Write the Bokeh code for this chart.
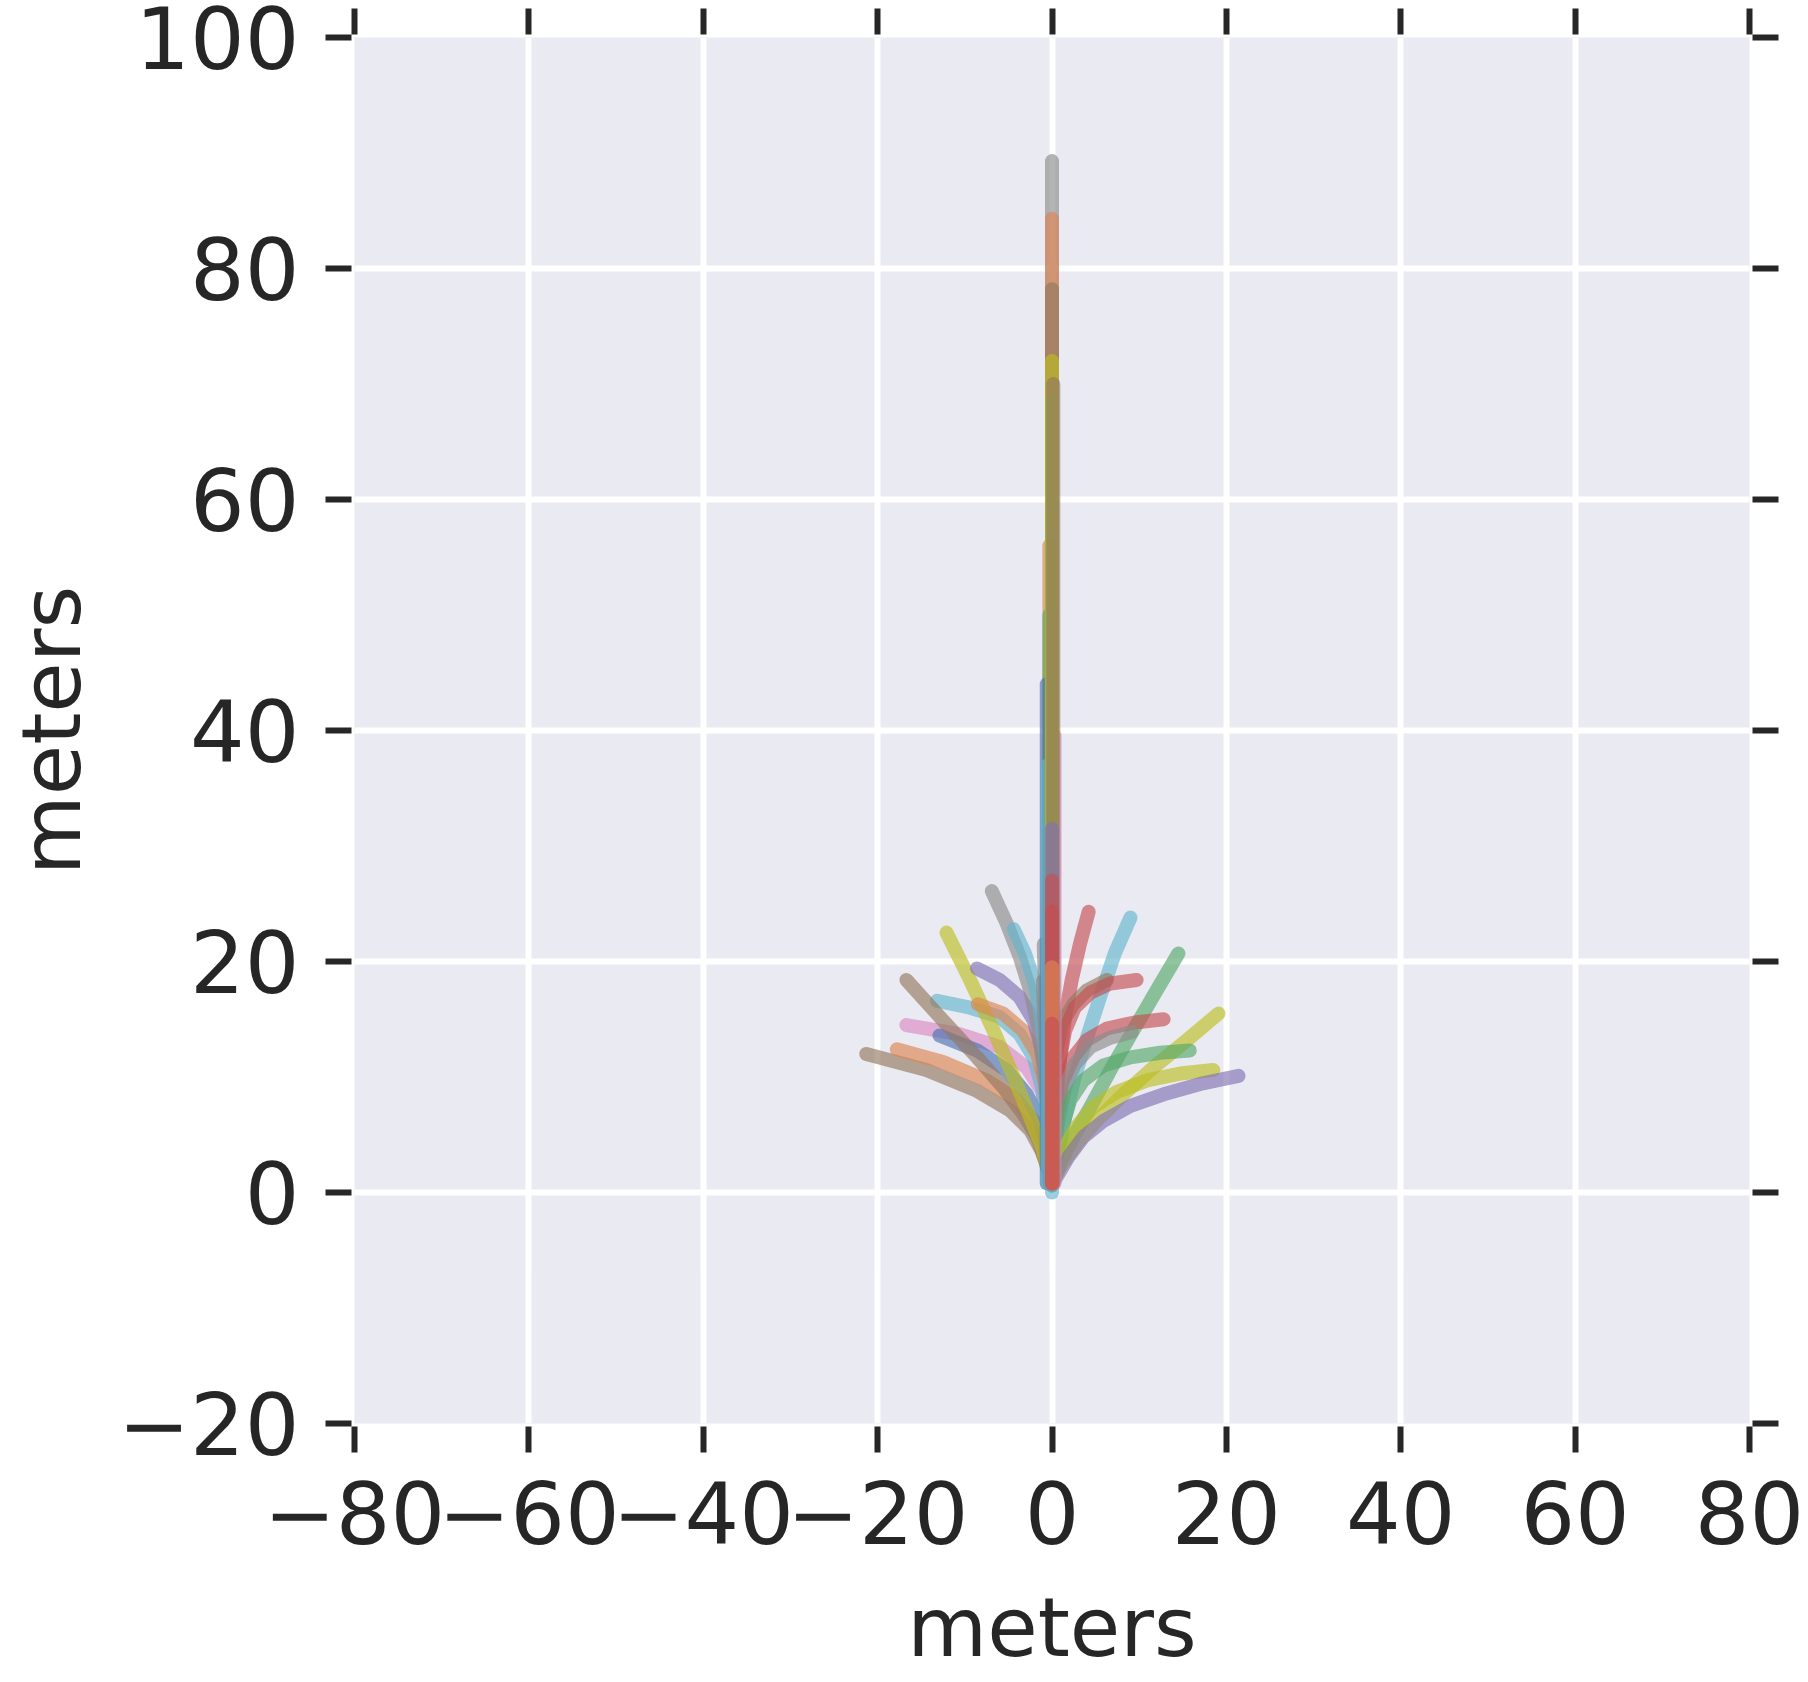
from bokeh.plotting import figure
from bokeh.models import LinearAxis, FixedTicker, Range1d, CustomLabelingPolicy
from bokeh.embed import file_html
from bokeh.resources import INLINE

# ---------------- data ----------------
x_ticks = [-80, -60, -40, -20, 0, 20, 40, 60, 80]
x_tick_labels = ["\u221280", "\u221260", "\u221240", "\u221220", "0", "20", "40", "60", "80"]
y_ticks = [-20, 0, 20, 40, 60, 80, 100]
y_tick_labels = ["\u221220", "0", "20", "40", "60", "80", "100"]

# curving trajectories (left of origin)
l01_x = [0, -0.4, -1.2, -2.5, -4.8, -8.6, -14.4, -21.3]
l01_y = [0.7, 1.9, 3.6, 5.4, 7.1, 8.8, 10.6, 12.0]
l02_x = [0, -0.2, -0.96, -2.1, -4.05, -7.5, -12.5, -17.8]
l02_y = [0.8, 1.9, 4.2, 6.2, 8.0, 9.7, 11.3, 12.4]
l03_x = [0, 0, -0.38, -1.15, -2.9, -6.0, -10.6, -16.7]
l03_y = [0.8, 3.3, 6.2, 8.8, 10.8, 12.6, 13.7, 14.5]
l04_x = [0, -0.2, -0.77, -1.5, -2.9, -5.2, -8.6, -12.9]
l04_y = [0.8, 1.9, 4.5, 6.5, 8.5, 10.6, 12.3, 13.6]
l05_x = [0, -0.2, -0.5, -1.15, -2.1, -3.7, -6.0, -9.4, -13.2]
l05_y = [0.8, 2.5, 5.9, 9.1, 11.7, 13.7, 15.2, 16.0, 16.6]
l06_x = [0, -0.2, -0.77, -1.7, -3.3, -5.6, -8.6, -12.5, -16.7]
l06_y = [0.6, 1.0, 2.8, 4.8, 6.8, 9.1, 11.7, 14.9, 18.4]
l07_x = [0, -0.4, -1.15, -2.5, -4.4, -6.7, -9.4, -12.1]
l07_y = [0.8, 1.9, 3.9, 6.5, 10.0, 14.0, 18.4, 22.5]
l08_x = [0, 0, -0.27, -0.77, -1.7, -3.3, -5.6, -8.5]
l08_y = [0.8, 2.5, 6.2, 9.4, 12.0, 14.0, 15.5, 16.3]
l09_x = [0, -0.2, -0.5, -1.15, -2.1, -3.7, -6.0, -8.6]
l09_y = [0.8, 5.4, 9.4, 12.3, 14.9, 16.9, 18.4, 19.4]
l10_x = [0, -0.2, -0.5, -0.96, -1.5, -2.5, -3.7, -5.2, -6.9]
l10_y = [0.8, 3.3, 7.1, 10.6, 14.0, 17.5, 20.4, 23.3, 26.1]
l11_x = [0, -0.2, -0.46, -0.8, -1.3, -2.1, -3.1, -4.4]
l11_y = [0.8, 4.8, 8.8, 12.3, 15.5, 18.4, 20.7, 22.8]
l12_x = [0, -0.15, -0.4, -0.7, -0.95]
l12_y = [0.8, 3.0, 8.0, 15.0, 21.5]
l13_x = [0, -0.2, -0.5, -0.8, -1.05]
l13_y = [0.8, 3.0, 8.0, 13.5, 18.3]

# curving trajectories (right of origin)
r01_x = [0, 0, 0.15, 0.57, 0.92, 1.5, 2.26, 3.2, 4.2]
r01_y = [0.8, 1.9, 4.8, 8.3, 11.7, 15.2, 18.4, 21.5, 24.3]
r02_x = [0, 0.15, 0.8, 1.5, 2.6, 4.0, 5.5, 7.2, 9.0]
r02_y = [0.8, 1.6, 3.6, 6.5, 10.0, 13.4, 16.9, 20.7, 23.8]
r03_x = [0, 0.92, 2.45, 4.4, 6.7, 9.3, 12.0, 14.5]
r03_y = [0.8, 2.5, 4.8, 7.4, 10.6, 14.0, 17.5, 20.7]
r04_x = [0, 0, 0.15, 0.54, 1.1, 2.45, 4.0, 6.3]
r04_y = [0.8, 5.4, 9.4, 12.3, 14.6, 16.3, 17.5, 18.4]
r05_x = [0, 0, 0.3, 0.8, 1.5, 2.6, 4.4, 6.7, 9.7]
r05_y = [0.8, 3.3, 7.7, 11.1, 14.0, 16.0, 17.3, 18.1, 18.4]
r06_x = [0, 0.1, 0.54, 1.1, 2.45, 4.0, 6.3, 9.3, 12.8]
r06_y = [0.8, 3.1, 6.5, 9.4, 11.7, 13.2, 14.2, 14.7, 15.0]
r07_x = [0, 0.15, 0.8, 1.5, 2.6, 4.4, 6.7, 9.15]
r07_y = [0.8, 3.3, 6.5, 9.1, 11.1, 12.6, 13.4, 13.9]
r08_x = [0, 0.92, 2.8, 5.1, 8.2, 11.6, 15.5, 19.1]
r08_y = [0.8, 2.2, 4.2, 6.2, 8.5, 10.8, 13.2, 15.5]
r09_x = [0, 0.5, 1.2, 2.1, 3.6, 5.9, 9.0, 12.4, 15.8]
r09_y = [0.8, 2.8, 5.7, 8.0, 9.7, 11.0, 11.7, 12.1, 12.3]
r10_x = [0, 0.5, 1.3, 2.8, 4.7, 7.4, 10.9, 14.7, 18.5]
r10_y = [0.8, 1.6, 3.6, 5.7, 7.4, 8.7, 9.7, 10.3, 10.6]
r11_x = [0, 0.5, 1.9, 3.6, 5.9, 9.0, 12.8, 17.0, 21.4]
r11_y = [0.6, 1.3, 3.1, 4.8, 6.2, 7.5, 8.5, 9.4, 10.1]

# straight-ahead trajectories (in drawing order): lateral offset, start and end distance
straight_x = [0, -0.3, -0.3, -0.6, 0.3, -0.5, 0, 0, 0, 0, 0, 0.15, 0, 0, 0, 0, 0]
straight_start = [0.0, 0.8, 0.8, 0.8, 0.8, 0.8, 0.8, 0.8, 0.8, 0.8, 0.8, 0.8, 0.8, 0.8, 0.8, 0.8, 0.8]
straight_end = [12.0, 56.0, 50.0, 44.0, 39.5, 37.0, 89.3, 84.3, 78.2, 68.5, 72.0, 70.0, 31.5, 27.0, 24.3, 19.5, 14.6]

# ---------------- styling ----------------
BLUE, ORANGE, GREEN, RED, PURPLE = "#4c72b0", "#dd8452", "#55a868", "#c44e52", "#8172b3"
BROWN, PINK, GRAY, OLIVE, CYAN = "#937860", "#da8bc3", "#8c8c8c", "#bcbd22", "#64b5cd"

curves = [
    (l01_x, l01_y, BROWN), (l02_x, l02_y, ORANGE), (l03_x, l03_y, PINK),
    (l04_x, l04_y, BLUE), (l05_x, l05_y, CYAN), (l06_x, l06_y, BROWN),
    (l07_x, l07_y, OLIVE), (l08_x, l08_y, ORANGE), (l09_x, l09_y, PURPLE),
    (l10_x, l10_y, GRAY), (l11_x, l11_y, CYAN), (l12_x, l12_y, GRAY),
    (l13_x, l13_y, GRAY),
    (r01_x, r01_y, RED), (r02_x, r02_y, CYAN), (r03_x, r03_y, GREEN),
    (r04_x, r04_y, BROWN), (r05_x, r05_y, RED), (r06_x, r06_y, RED),
    (r07_x, r07_y, GRAY), (r08_x, r08_y, OLIVE), (r09_x, r09_y, GREEN),
    (r10_x, r10_y, OLIVE), (r11_x, r11_y, PURPLE),
]
straight_colors = [CYAN, ORANGE, GREEN, BLUE, PINK, CYAN, GRAY, ORANGE, BROWN, GREEN,
                   OLIVE, BROWN, PURPLE, RED, RED, ORANGE, RED]

INK = "#262626"
FONT = "DejaVu Sans"
TICK_FS = "86px"
LABEL_FS = "82px"
LW = 14
ALPHA = 0.65

p = figure(
    frame_width=1395, frame_height=1386,
    x_range=Range1d(-80, 80), y_range=Range1d(-20, 100),
    output_backend="svg", toolbar_location=None,
    min_border_left=354, min_border_top=37, min_border_right=59, min_border_bottom=259,
    background_fill_color="#eaeaf2", border_fill_color="white",
    outline_line_color=None,
)

for cx, cy, col in curves:
    p.line(cx, cy, line_color=col, line_width=LW, line_alpha=ALPHA,
           line_cap="round", line_join="round")

for sx, s0, s1, col in zip(straight_x, straight_start, straight_end, straight_colors):
    p.line([sx, sx], [s0, s1], line_color=col, line_width=LW, line_alpha=ALPHA,
           line_cap="round", line_join="round")

bottom_axis = p.below[0]
left_axis = p.left[0]
top_axis = LinearAxis()
right_axis = LinearAxis()
p.add_layout(top_axis, "above")
p.add_layout(right_axis, "right")

xt = FixedTicker(ticks=x_ticks)
yt = FixedTicker(ticks=y_ticks)

for ax, tk in [(bottom_axis, xt), (top_axis, xt), (left_axis, yt), (right_axis, yt)]:
    ax.ticker = tk
    ax.axis_line_color = None
    ax.major_tick_line_color = INK
    ax.major_tick_line_width = 6
    ax.major_tick_in = -3
    ax.major_tick_out = 29
    ax.minor_tick_line_color = None
    ax.major_label_text_font = FONT
    ax.major_label_text_font_size = TICK_FS
    ax.major_label_text_color = INK

bottom_axis.major_label_overrides = {t: s for t, s in zip(x_ticks, x_tick_labels)}
left_axis.major_label_overrides = {t: s for t, s in zip(y_ticks, y_tick_labels)}

hide_all = CustomLabelingPolicy(code="""
    for (const i of indices)
        indices.unset(i)
    return indices
""")
for ax in (top_axis, right_axis):
    ax.major_label_policy = hide_all
    ax.major_label_text_font_size = "1px"
    ax.major_label_standoff = 0

bottom_axis.major_label_standoff = 28
left_axis.major_label_standoff = 26

for ax in (bottom_axis, left_axis):
    ax.axis_label = "meters"
    ax.axis_label_text_font = FONT
    ax.axis_label_text_font_size = LABEL_FS
    ax.axis_label_text_font_style = "normal"
    ax.axis_label_text_color = INK
bottom_axis.axis_label_standoff = 33
left_axis.axis_label_standoff = 16

p.xgrid.ticker = xt
p.ygrid.ticker = yt
p.grid.grid_line_color = "white"
p.grid.grid_line_width = 6

open("out.html", "w").write(file_html(p, INLINE))
